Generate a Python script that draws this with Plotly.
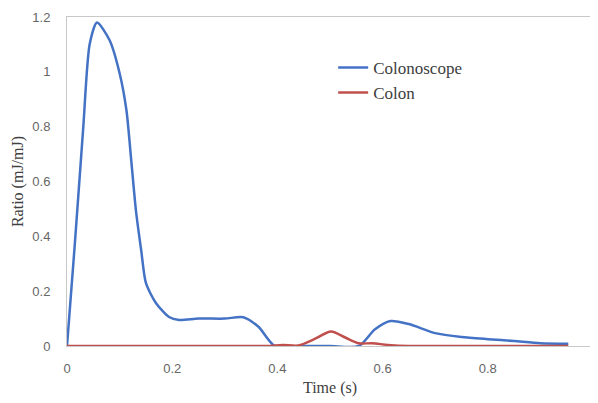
import plotly.graph_objects as go

t_scope = [0, 0.015, 0.031, 0.043, 0.057, 0.081, 0.1, 0.113, 0.122, 0.131, 0.141, 0.150, 0.169, 0.194, 0.213,
           0.25, 0.3, 0.335, 0.364, 0.395, 0.45, 0.5, 0.555, 0.585, 0.615, 0.65, 0.7, 0.75, 0.8, 0.85, 0.9, 0.953]
v_scope = [0, 0.375, 0.80, 1.10, 1.18, 1.115, 0.995, 0.86, 0.68, 0.495, 0.35, 0.23, 0.157, 0.106, 0.095,
           0.10, 0.10, 0.105, 0.07, 0.0, 0.0, 0.0, 0.0, 0.06, 0.091, 0.08, 0.047, 0.033, 0.025, 0.018, 0.01, 0.008]

t_colon = [0, 0.1, 0.2, 0.3, 0.38, 0.41, 0.44, 0.47, 0.502, 0.53, 0.555, 0.58, 0.61, 0.65, 0.7, 0.8, 0.9, 0.953]
v_colon = [0, 0, 0, 0, 0, 0.004, 0.002, 0.025, 0.053, 0.03, 0.01, 0.01, 0.004, 0, 0, 0, 0, 0]

x_ticks = [0, 0.2, 0.4, 0.6, 0.8, 1]
x_labels = ["0", "0.2", "0.4", "0.6", "0.8", "1"]
y_ticks = [0, 0.2, 0.4, 0.6, 0.8, 1, 1.2]
y_labels = ["0", "0.2", "0.4", "0.6", "0.8", "1", "1.2"]

fig = go.Figure()
fig.add_trace(go.Scatter(x=t_scope, y=v_scope, mode="lines", name="Colonoscope",
                         line=dict(color="#4472C4", width=2.5, shape="spline", smoothing=0.7)))
fig.add_trace(go.Scatter(x=t_colon, y=v_colon, mode="lines", name="Colon",
                         line=dict(color="#C0504D", width=2.5, shape="spline", smoothing=0.8)))

tickfont = dict(family="Liberation Sans", size=13, color="#666666")
titlefont = dict(family="Liberation Serif", size=16, color="#404040")

# the page body has an 8px margin, so the figure is sized 590x395
fig.update_layout(
    width=590, height=395,
    margin=dict(l=59, r=5, t=9, b=57, autoexpand=False),
    paper_bgcolor="white", plot_bgcolor="white",
    showlegend=True,
    legend=dict(x=0.506, y=0.90, xanchor="left", yanchor="top",
                font=dict(family="Liberation Serif", size=17, color="#404040"),
                bgcolor="rgba(0,0,0,0)", tracegroupgap=0),
    xaxis=dict(range=[0, 1], tickvals=x_ticks, ticktext=x_labels, automargin=False,
               showgrid=False, zeroline=False, showline=True, linecolor="#c8c8c8", linewidth=1, mirror=True,
               ticks="", ticklabelstandoff=10, tickfont=tickfont, ticklabeloverflow="allow",
               title=dict(text="Time (s)", font=titlefont, standoff=7)),
    yaxis=dict(range=[0, 1.2], tickvals=y_ticks, ticktext=y_labels, automargin=False,
               showgrid=False, zeroline=False, showline=True, linecolor="#c8c8c8", linewidth=1, mirror=True,
               ticks="", ticklabelstandoff=13, tickfont=tickfont,
               title=dict(text="Ratio (mJ/mJ)", font=titlefont, standoff=4)),
)

fig.write_html("out.html")
